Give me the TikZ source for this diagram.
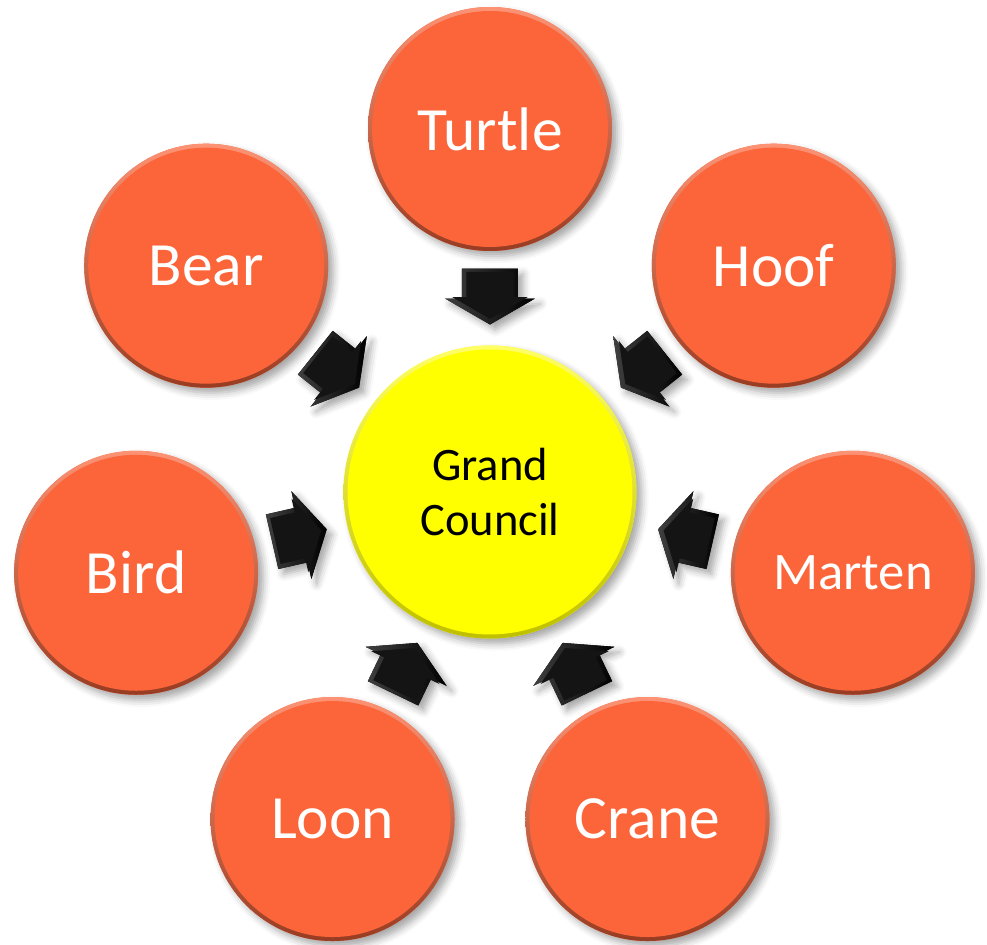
\documentclass[tikz,border=0pt]{standalone}
\usepackage{fontspec}
\setmainfont{Carlito}
\usetikzlibrary{calc,shadows.blur}
\definecolor{tribeorange}{RGB}{252,100,57}
\definecolor{councilyellow}{RGB}{255,255,0}
\newcommand\Ring{363}
\newcommand\Gap{0.533}
\tikzset{
  softshadow/.style={
    blur shadow={shadow xshift=3pt, shadow yshift=-3pt, shadow opacity=35, shadow blur radius=4pt}
  },
}
\tikzset{
  tribe/.style={
    shape = circle,
    minimum size = 4.88cm,
    inner sep = 0pt,
    fill = tribeorange,
    softshadow,
    text = white,
    font = \fontsize{35}{40}\selectfont,
    path picture={
      \shade[top color=tribeorange!70!white, bottom color=tribeorange!60!black]
        (path picture bounding box.center) circle[radius=2.44cm];
      \fill[tribeorange] (path picture bounding box.center) circle[radius=2.36cm];
    }
  },
  small/.style={
    font = \fontsize{30}{36}\selectfont
  },
}
\tikzset{
  council/.style={
    shape = circle,
    minimum size = 5.86cm,
    inner sep = 0pt,
    fill = councilyellow,
    softshadow,
    align = center,
    text = black,
    font = \fontsize{26.5}{31}\selectfont,
    path picture={
      \shade[top color=councilyellow!60!white, bottom color=councilyellow!75!black]
        (path picture bounding box.center) circle[radius=2.93cm];
      \fill[councilyellow] (path picture bounding box.center) circle[radius=2.85cm];
    }
  },
}
\tikzset{
  pics/inflow/.style={
    code={
      \fill[left color=gray!50!black, right color=black, softshadow]
        (-30,28) -- (0,28) -- (0,45) -- (26,0) -- (0,-45) -- (0,-28) -- (-30,-28) -- cycle;
      \fill[black!92, xshift=-0.03cm, scale=0.84]
        (-30,28) -- (0,28) -- (0,45) -- (26,0) -- (0,-45) -- (0,-28) -- (-30,-28) -- cycle;
    }
  },
}
\begin{document}
\begin{tikzpicture}[x=0.02cm, y=0.02cm]
        \useasboundingbox (-490,-453) rectangle (497,492);

        \node[council] (council) at (0,0) {Grand\\Council};

        \node[tribe] (turtle) at (90:\Ring) {Turtle};
        \node[tribe] (bear) at (141.43:\Ring) {Bear};
        \node[tribe] (bird) at (192.86:\Ring) {Bird};
        \node[tribe] (loon) at (244.29:\Ring) {Loon};
        \node[tribe] (crane) at (295.71:\Ring) {Crane};
        \node[tribe, small] (marten) at ($(347.14:\Ring)+(9,0)$) {Marten};
        \node[tribe] (hoof) at (38.57:\Ring) {Hoof};

        \pic[rotate=270] at ($(council)!\Gap!(turtle)$) {inflow};
        \pic[rotate=321.43] at ($(council)!\Gap!(bear)$) {inflow};
        \pic[rotate=12.86] at ($(council)!\Gap!(bird)$) {inflow};
        \pic[rotate=64.29] at ($(council)!\Gap!(loon)$) {inflow};
        \pic[rotate=115.71] at ($(council)!\Gap!(crane)$) {inflow};
        \pic[rotate=167.14] at ($(council)!\Gap!(marten)$) {inflow};
        \pic[rotate=218.57] at ($(council)!\Gap!(hoof)$) {inflow};
\end{tikzpicture}
\end{document}
